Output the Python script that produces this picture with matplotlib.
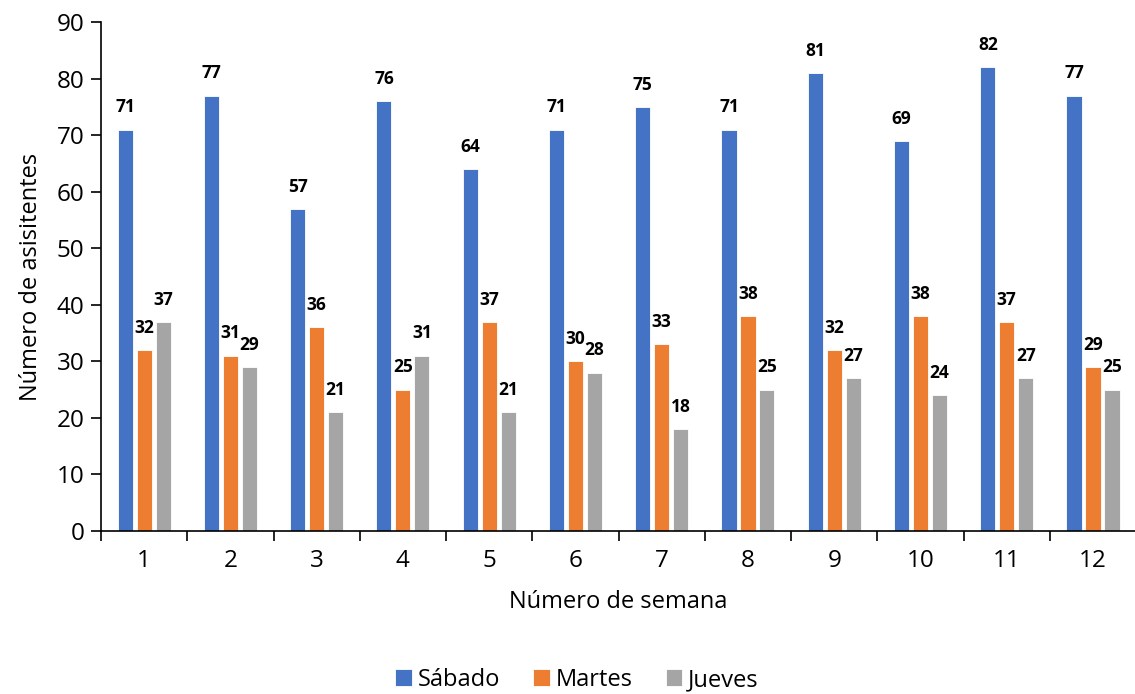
import matplotlib
matplotlib.use("Agg")
import matplotlib.pyplot as plt
import numpy as np

# data
weeks = ["1", "2", "3", "4", "5", "6", "7", "8", "9", "10", "11", "12"]
sabado = [71, 77, 57, 76, 64, 71, 75, 71, 81, 69, 82, 77]
martes = [32, 31, 36, 25, 37, 30, 33, 38, 32, 38, 37, 29]
jueves = [37, 29, 21, 31, 21, 28, 18, 25, 27, 24, 27, 25]
series_names = ["Sábado", "Martes", "Jueves"]
colors = ["#4472C4", "#ED7D31", "#A5A5A5"]

plt.rcParams["font.family"] = ["Open Sans", "DejaVu Sans"]

fig = plt.figure(figsize=(11.35, 6.94), dpi=100)
ax = fig.add_axes([0.089, 0.235, 0.912, 0.733])

x = np.arange(len(weeks))
width = 0.175
step = 0.22
for i, (vals, name, col) in enumerate(zip([sabado, martes, jueves], series_names, colors)):
    pos = x + (i - 1) * step
    bars = ax.bar(pos, vals, width, color=col, edgecolor="white", linewidth=0.6, label=name)
    for b, v in zip(bars, vals):
        ax.annotate(f"{v}", (b.get_x() + b.get_width() / 2, v), xytext=(0, 16),
                    textcoords="offset points", ha="center", va="center",
                    fontsize=12.5, fontweight="bold", color="black")

ax.set_ylim(0, 90)
ax.set_yticks(range(0, 91, 10))
ax.set_xlim(-0.5, 11.5)
ax.set_xticks(x)
ax.set_xticklabels(weeks)
ax.set_xticks(np.arange(-0.5, 12, 1), minor=True)
ax.tick_params(axis="x", which="major", length=0, labelsize=17.5, pad=13)
ax.tick_params(axis="x", which="minor", length=7, width=1.2, direction="out")
ax.tick_params(axis="y", length=7, width=1.2, labelsize=17.5, pad=5)

for s in ["top", "right"]:
    ax.spines[s].set_visible(False)
ax.spines["left"].set_linewidth(1.2)
ax.spines["bottom"].set_linewidth(1.2)

ax.set_xlabel("Número de semana", fontsize=17, labelpad=12)
ax.set_ylabel("Número de asisitentes", fontsize=17, labelpad=10)

ax.legend(loc="center", bbox_to_anchor=(0.46, -0.293), ncol=3, frameon=False,
          fontsize=17, handlelength=0.7, handleheight=0.7, handletextpad=0.25,
          columnspacing=1.4)

plt.savefig("out.png", dpi=100)
